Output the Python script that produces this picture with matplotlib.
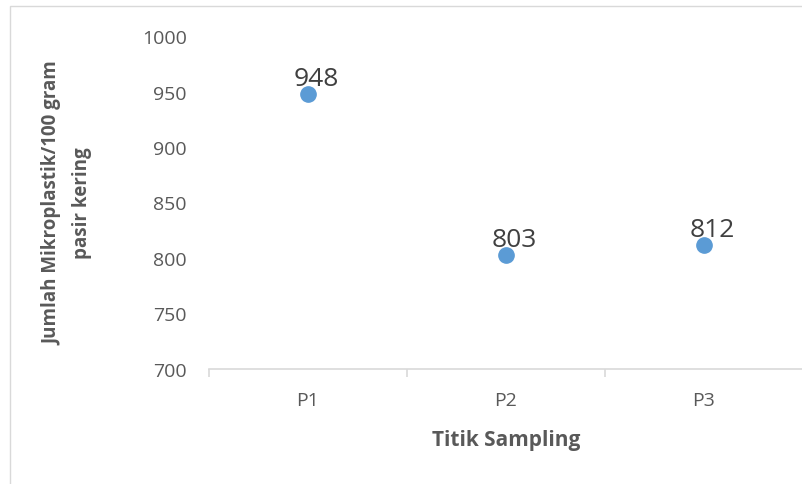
import matplotlib.pyplot as plt
from matplotlib.patches import Rectangle

categories = ["P1", "P2", "P3"]
values = [948, 803, 812]
yticks = [700, 750, 800, 850, 900, 950, 1000]

plt.rcParams['font.family'] = ['Open Sans', 'DejaVu Sans']

fig = plt.figure(figsize=(8.02, 4.85), dpi=100)
# chart-area frame
fig.patches.append(Rectangle((10 / 802, -0.1), 1.1, 1 - 7 / 485 + 0.1,
                             transform=fig.transFigure, fill=False,
                             edgecolor="#D9D9D9", linewidth=1))
ax = fig.add_axes([209 / 802, 1 - 370 / 485, 594 / 802, 333 / 485])

x = list(range(1, len(categories) + 1))
ax.plot(x, values, "o", color="#5B9BD5", markersize=11, linestyle="none", clip_on=False)
for xi, v in zip(x, values):
    ax.annotate(str(v), (xi, v), xytext=(6, 2), textcoords="offset points",
                ha="center", va="bottom", fontsize=19, color="#404040")

ax.set_xlim(0.5, 3.5)
ax.set_ylim(700, 1000)
ax.set_yticks(yticks)
ax.set_xticks(x)
ax.set_xticklabels(categories)
ax.set_xticks([0.5, 1.5, 2.5, 3.5], minor=True)

for s in ["top", "right", "left"]:
    ax.spines[s].set_visible(False)
ax.spines["bottom"].set_color("#D9D9D9")
ax.spines["bottom"].set_linewidth(1.2)
ax.tick_params(axis="y", length=0, pad=16, labelsize=14, labelcolor="#595959")
ax.tick_params(axis="x", which="major", length=0, pad=16, labelsize=14, labelcolor="#595959")
ax.tick_params(axis="x", which="minor", length=6, color="#D9D9D9", width=1.2)

ax.set_xlabel("Titik Sampling", fontsize=15, fontweight="bold", color="#595959", labelpad=14)
ax.set_ylabel("Jumlah Mikroplastik/100 gram\npasir kering", fontsize=13.5,
              fontweight="bold", color="#595959", labelpad=36, linespacing=1.6)

fig.savefig("out.png", dpi=100)
